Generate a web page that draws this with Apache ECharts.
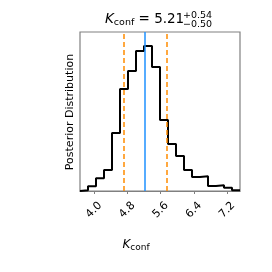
<!DOCTYPE html>
<html><head><meta charset="utf-8">
<script src="https://cdn.jsdelivr.net/npm/echarts@6/dist/echarts.min.js"></script>
<style>html,body{margin:0;padding:0;background:#fff}#c{width:272px;height:272px}</style>
</head><body><div id="c"></div>
<script>
const binStart = 3.664;
const binEnd = 7.51;
const counts = [0.7, 4.7, 12.7, 21, 58, 102, 120, 140, 145, 124, 71, 47, 35, 21, 14, 14.7, 5, 5.7, 3.3, 0.7];
const tickValues = [4.0, 4.8, 5.6, 6.4, 7.2];
const median = 5.21, lower = 4.71, upper = 5.75;
const yMax = 159;

const nb = counts.length;
const w = (binEnd - binStart) / nb;
const pts = [[binStart, 0]];
for (let i = 0; i < nb; i++) {
  pts.push([binStart + i * w, counts[i]]);
  pts.push([binStart + (i + 1) * w, counts[i]]);
}
pts.push([binEnd, 0]);

const chart = echarts.init(document.getElementById('c'));
const ff = 'DejaVu Sans';
chart.setOption({
  animation: false,
  grid: {left: 80, right: 32, top: 32, bottom: 81, show: true, borderColor: '#808080', borderWidth: 1.2},
  xAxis: {
    type: 'value', min: binStart, max: binEnd,
    splitLine: {show: false},
    axisLine: {show: true, lineStyle: {color: '#808080', width: 1.2}},
    axisTick: {show: true, customValues: tickValues, length: 3, lineStyle: {color: '#808080'}},
    axisLabel: {customValues: tickValues, rotate: 45, align: 'center', verticalAlign: 'middle', margin: 19,
      color: '#000', fontFamily: ff, fontSize: 11, formatter: v => v.toFixed(1)}
  },
  yAxis: {
    type: 'value', min: 0, max: yMax,
    splitLine: {show: false}, axisLine: {show: false}, axisTick: {show: false}, axisLabel: {show: false}
  },
  series: [{
    type: 'line', data: pts, symbol: 'none', silent: true,
    lineStyle: {color: '#000', width: 2},
    markLine: {
      symbol: 'none', silent: true, label: {show: false},
      data: [
        {xAxis: median, lineStyle: {color: '#1E90FF', width: 1.5, type: 'solid'}},
        {xAxis: lower, lineStyle: {color: '#FF8C00', width: 1.5, type: [5, 3]}},
        {xAxis: upper, lineStyle: {color: '#FF8C00', width: 1.5, type: [5, 3]}}
      ]
    }
  }],
  graphic: [
    {type: 'text', left: 105, top: 12, style: {
      rich: {
        k: {fontFamily: ff, fontSize: 13.5, fontStyle: 'italic', fill: '#000'},
        s: {fontFamily: ff, fontSize: 9.5, fill: '#000', padding: [7, 0, 0, 0]},
        m: {fontFamily: ff, fontSize: 13.5, fill: '#000'}
      },
      text: '{k|K}{s|conf}{m| = 5.21}'
    }},
    {type: 'text', x: 183, y: 16, style: {text: '+0.54', fontFamily: ff, fontSize: 9.5, fill: '#000', verticalAlign: 'middle'}},
    {type: 'text', x: 183, y: 24.5, style: {text: '\u22120.50', fontFamily: ff, fontSize: 9.5, fill: '#000', verticalAlign: 'middle'}},
    {type: 'text', left: 'center', top: 239, style: {
      rich: {
        k: {fontFamily: ff, fontSize: 12, fontStyle: 'italic', fill: '#000'},
        s: {fontFamily: ff, fontSize: 9, fill: '#000', padding: [6, 0, 0, 0]}
      },
      text: '{k|K}{s|conf}'
    }},
    {type: 'text', x: 70, y: 112, rotation: Math.PI / 2, style: {
      text: 'Posterior Distribution', fontFamily: ff, fontSize: 11, fill: '#000', align: 'center', verticalAlign: 'middle'
    }}
  ]
});
</script></body></html>
